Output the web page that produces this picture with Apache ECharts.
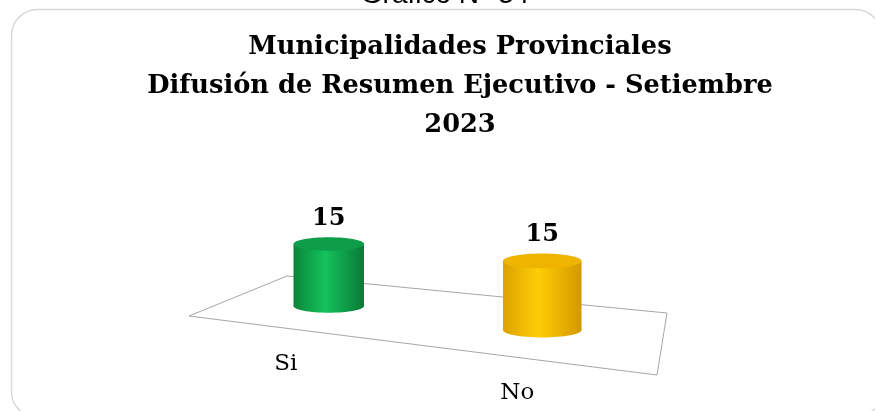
<!DOCTYPE html>
<html>
<head>
<meta charset="utf-8">
<script src="https://cdn.jsdelivr.net/npm/echarts@6/dist/echarts.min.js"></script>
<style>
  html, body { margin: 0; padding: 0; background: #fff; }
  #chart { width: 875px; height: 411px; }
</style>
</head>
<body>
<div id="chart"></div>
<script>
const categories = ['Si', 'No'];
const values = [15, 15];
const captionText = 'Gráfico N° 34';
const titleLines = ['Municipalidades Provinciales', 'Difusión de Resumen Ejecutivo - Setiembre', '2023'];

// body gradient (left, centre, right) + top colour per cylinder
const cylinderColors = [
  { edge: '#0b853a', mid: '#14c25c', dark: '#0a7a35', top: '#0e9d48' },
  { edge: '#dca200', mid: '#ffcd05', dark: '#d49800', top: '#efb400' },
];

const chart = echarts.init(document.getElementById('chart'));

chart.setOption({
  animation: false,
  title: {
    text: titleLines.join('\n'),
    left: 460,
    textAlign: 'center',
    top: 28,
    padding: 0,
    textStyle: {
      fontFamily: 'DejaVu Serif',
      fontWeight: 'bold',
      fontSize: 25.7,
      lineHeight: 39,
      color: '#000',
    },
  },
  graphic: [
    {
      type: 'rect',
      z: 0,
      shape: { x: 11.5, y: 9.5, width: 870, height: 408, r: 26 },
      style: { fill: 'none', stroke: '#d9d9d9', lineWidth: 1.5 },
    },
    {
      type: 'text',
      x: 445,
      y: 9,
      style: {
        text: captionText,
        font: '28px "Liberation Sans"',
        fill: '#000',
        align: 'center',
        verticalAlign: 'bottom',
      },
    },
    {
      // floor of the 3D plot area
      type: 'polygon',
      z: 0,
      shape: { points: [[189, 316], [287, 276], [667, 313], [657, 375]] },
      style: { fill: '#fff', stroke: '#a6a6a6', lineWidth: 1 },
    },
  ],
  grid: {
    left: 222,
    right: 226,
    top: 182,
    bottom: 105,
  },
  xAxis: {
    type: 'category',
    data: categories,
    show: false,
  },
  yAxis: {
    type: 'value',
    min: 0,
    max: 30,
    show: false,
  },
  series: [{
    type: 'custom',
    data: values.map((v, i) => [i, v]),
    encode: { x: 0, y: 1 },
    renderItem: function (params, api) {
      const cs = params.coordSys;
      const base = api.coord([api.value(0), 0]);
      const top = api.coord([api.value(0), api.value(1)]);
      // fake perspective: further right = nearer (lower and larger)
      const t = (base[0] - cs.x) / cs.width;
      const s = 0.943 + 0.229 * t;
      const cx = base[0];
      const by = base[1] + 48 * (t - 0.25);
      const h = (base[1] - top[1]) * s;
      const ty = by - h;
      const w = api.size([1, 0])[0] * 0.33 * s;
      const rx = w / 2;
      const ry = w * 0.095;
      const c = cylinderColors[params.dataIndex];
      const bodyFill = () => new echarts.graphic.LinearGradient(0, 0, 1, 0, [
        { offset: 0, color: c.edge },
        { offset: 0.45, color: c.mid },
        { offset: 1, color: c.dark },
      ]);
      return {
        type: 'group',
        children: [
          {
            type: 'rect',
            shape: { x: cx - rx, y: ty, width: w, height: h },
            style: { fill: bodyFill() },
          },
          {
            type: 'ellipse',
            shape: { cx: cx, cy: by, rx: rx, ry: ry },
            style: { fill: bodyFill() },
          },
          {
            type: 'ellipse',
            shape: { cx: cx, cy: ty, rx: rx, ry: ry },
            style: { fill: c.top },
          },
          {
            type: 'text',
            x: cx,
            y: ty - ry - 7,
            style: {
              text: String(api.value(1)),
              font: 'bold 24px "DejaVu Serif"',
              fill: '#000',
              align: 'center',
              verticalAlign: 'bottom',
            },
          },
          {
            type: 'text',
            x: cx - 52 + 36 * t,
            y: by + 55.5 + 10 * t,
            style: {
              text: categories[params.dataIndex],
              font: '23px "DejaVu Serif"',
              fill: '#000',
              align: 'center',
              verticalAlign: 'middle',
            },
          },
        ],
      };
    },
  }],
});
</script>
</body>
</html>
